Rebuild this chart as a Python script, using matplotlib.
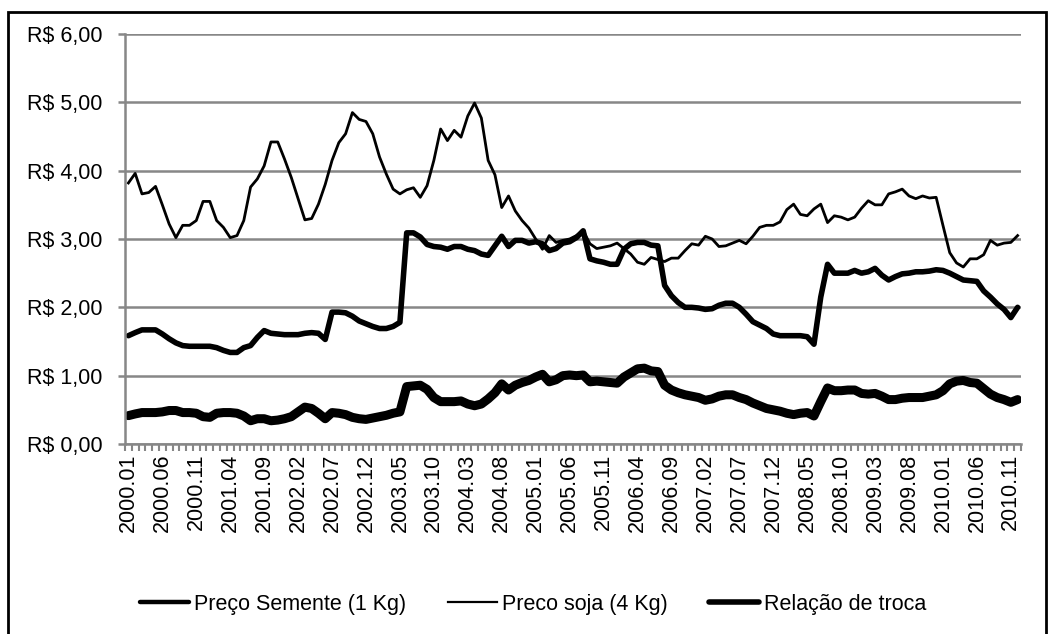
import matplotlib
matplotlib.use('Agg')
import matplotlib.pyplot as plt
import numpy as np
from matplotlib.patches import Rectangle
from matplotlib.ticker import FuncFormatter

plt.rcParams['font.family'] = ['Liberation Sans', 'DejaVu Sans']

# meses de 2000.01 a 2010.12
meses = [f'{2000 + k // 12}.{k % 12 + 1:02d}' for k in range(132)]

# preco da semente (R$ por 1 kg)
semente = [
    1.585, 1.63, 1.67, 1.67, 1.67, 1.61, 1.54, 1.48, 1.44, 1.43, 1.43, 1.43,
    1.43, 1.41, 1.37, 1.34, 1.34, 1.41, 1.44, 1.56, 1.66, 1.62, 1.61, 1.60,
    1.60, 1.60, 1.62, 1.63, 1.62, 1.53, 1.93, 1.93, 1.92, 1.87, 1.80, 1.76,
    1.72, 1.69, 1.69, 1.72, 1.78, 3.09, 3.09, 3.03, 2.92, 2.89, 2.88, 2.85,
    2.89, 2.89, 2.85, 2.83, 2.78, 2.76, 2.90, 3.04, 2.89, 2.98, 2.98, 2.94,
    2.96, 2.93, 2.83, 2.86, 2.94, 2.96, 3.02, 3.12, 2.71, 2.68, 2.66, 2.63,
    2.63, 2.85, 2.93, 2.95, 2.95, 2.91, 2.90, 2.32, 2.17, 2.07, 2.00, 2.00,
    1.99, 1.97, 1.98, 2.03, 2.06, 2.06, 2.00, 1.90, 1.79, 1.74, 1.69, 1.61,
    1.585, 1.585, 1.585, 1.585, 1.57, 1.46, 2.15, 2.63, 2.50, 2.50, 2.50, 2.54,
    2.50, 2.52, 2.57, 2.47, 2.40, 2.45, 2.49, 2.50, 2.52, 2.52, 2.53, 2.55,
    2.54, 2.50, 2.45, 2.40, 2.39, 2.38, 2.24, 2.15, 2.05, 1.97, 1.85, 2.00,
]

# preco da soja (R$ por 4 kg)
soja = [
    3.82, 3.96, 3.66, 3.68, 3.77, 3.50, 3.22, 3.02, 3.20, 3.20, 3.27, 3.55,
    3.55, 3.27, 3.17, 3.02, 3.05, 3.27, 3.76, 3.88, 4.07, 4.42, 4.42, 4.17,
    3.90, 3.59, 3.28, 3.30, 3.51, 3.80, 4.15, 4.41, 4.54, 4.85, 4.75, 4.72,
    4.54, 4.20, 3.95, 3.73, 3.66, 3.72, 3.75, 3.61, 3.78, 4.15, 4.61, 4.44,
    4.59, 4.49, 4.80, 4.99, 4.77, 4.15, 3.94, 3.46, 3.63, 3.41, 3.27, 3.16,
    3.00, 2.85, 3.05, 2.95, 2.98, 3.00, 3.05, 3.12, 2.93, 2.86, 2.88, 2.90,
    2.94, 2.86, 2.78, 2.66, 2.63, 2.73, 2.70, 2.67, 2.72, 2.72, 2.83, 2.93,
    2.91, 3.04, 3.00, 2.89, 2.90, 2.94, 2.98, 2.93, 3.04, 3.17, 3.20, 3.20,
    3.25, 3.43, 3.51, 3.36, 3.34, 3.44, 3.51, 3.24, 3.34, 3.32, 3.28, 3.32,
    3.45, 3.56, 3.50, 3.50, 3.66, 3.69, 3.73, 3.63, 3.59, 3.63, 3.60, 3.61,
    3.20, 2.80, 2.65, 2.59, 2.71, 2.71, 2.77, 2.98, 2.91, 2.94, 2.95, 3.05,
]

# relacao de troca semente / soja
relacao = [
    0.415, 0.44, 0.46, 0.46, 0.46, 0.47, 0.49, 0.49, 0.46, 0.46, 0.45, 0.40,
    0.39, 0.45, 0.46, 0.46, 0.45, 0.41, 0.34, 0.37, 0.37, 0.34, 0.35, 0.37,
    0.40, 0.47, 0.54, 0.52, 0.45, 0.37, 0.46, 0.45, 0.43, 0.39, 0.37, 0.36,
    0.38, 0.40, 0.42, 0.45, 0.47, 0.84, 0.85, 0.86, 0.80, 0.68, 0.62, 0.62,
    0.62, 0.63, 0.585, 0.56, 0.585, 0.66, 0.75, 0.88, 0.79, 0.86, 0.90, 0.93,
    0.98, 1.02, 0.91, 0.94, 1.00, 1.01, 1.00, 1.01, 0.91, 0.92, 0.91, 0.90,
    0.89, 0.98, 1.04, 1.10, 1.11, 1.07, 1.06, 0.86, 0.79, 0.75, 0.72, 0.70,
    0.68, 0.64, 0.66, 0.70, 0.72, 0.72, 0.68, 0.65, 0.60, 0.56, 0.52, 0.50,
    0.48, 0.45, 0.43, 0.45, 0.46, 0.41, 0.62, 0.82, 0.78, 0.78, 0.79, 0.79,
    0.74, 0.73, 0.74, 0.70, 0.65, 0.65, 0.67, 0.68, 0.68, 0.68, 0.70, 0.72,
    0.78, 0.88, 0.92, 0.93, 0.90, 0.89, 0.81, 0.73, 0.68, 0.65, 0.61, 0.65,
]

cinza = '#878787'

fig = plt.figure(figsize=(10.49, 6.34), dpi=100)
ax = fig.add_axes([125 / 1049, 1 - 444 / 634, 896 / 1049, 410 / 634])

x = np.arange(len(meses))
ax.plot(x, semente, color='black', lw=4, solid_joinstyle='round',
        solid_capstyle='round', label='Preço Semente (1 Kg)')
ax.plot(x, soja, color='black', lw=2.0, solid_joinstyle='round',
        label='Preco soja (4 Kg)')
ax.plot(x, relacao, color='black', lw=6.5, solid_joinstyle='round',
        solid_capstyle='round', label='Relação de troca')

ax.set_xlim(-0.5, len(meses) - 0.5)
ax.set_ylim(0, 6)

ax.set_yticks(np.arange(0, 7, 1))
ax.yaxis.set_major_formatter(FuncFormatter(lambda v, p: 'R$ ' + f'{v:.2f}'.replace('.', ',')))
ax.yaxis.grid(True, color=cinza, lw=1.8)
ax.set_axisbelow(True)

ax.set_xticks(x[::5])
ax.set_xticklabels(meses[::5], rotation=90)
ax.set_xticks(np.arange(-0.5, len(meses), 1), minor=True)
ax.tick_params(axis='x', which='major', length=0, pad=7, labelsize=15.5)
ax.tick_params(axis='x', which='minor', length=5, width=1.5, color=cinza)
ax.tick_params(axis='y', length=5, width=1.8, color=cinza, pad=11, labelsize=15.5)

for lado in ['top', 'right']:
    ax.spines[lado].set_visible(False)
for lado in ['left', 'bottom']:
    ax.spines[lado].set_color(cinza)
    ax.spines[lado].set_linewidth(1.8)

leg = fig.legend(loc='center', bbox_to_anchor=(0.508, 0.047), ncol=3, frameon=False,
                 fontsize=15.5, handlelength=2.3, handletextpad=0.25, columnspacing=1.9)
for linha, largura in zip(leg.get_lines(), [3.2, 1.6, 4.0]):
    linha.set_linewidth(largura)

# moldura da area do grafico
fig.add_artist(Rectangle((8 / 1049, -0.05), 1038 / 1049, 1 - 12 / 634 + 0.05,
                         transform=fig.transFigure, fill=False, ec='black', lw=2))

fig.savefig('out.png', dpi=100)
